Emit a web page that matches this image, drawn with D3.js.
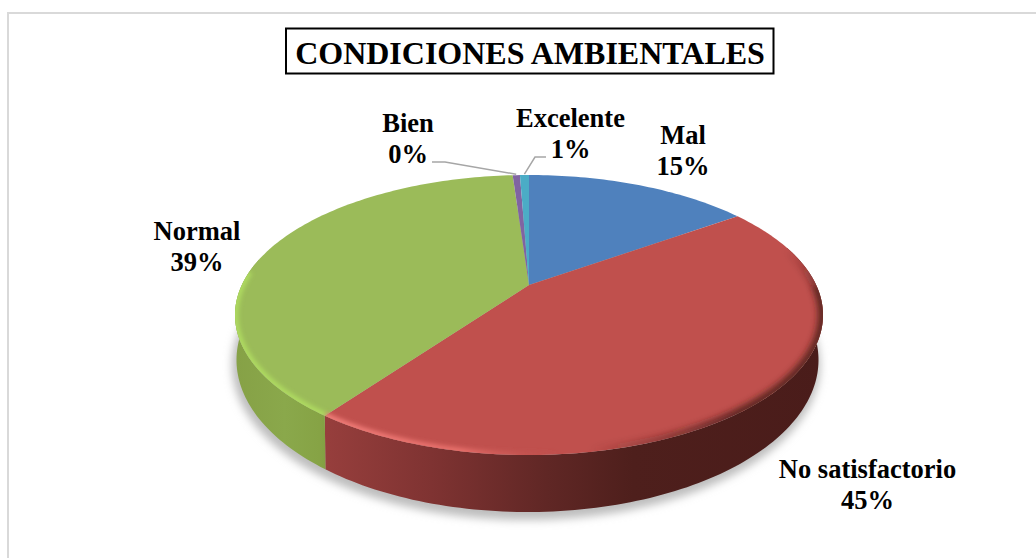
<!DOCTYPE html>
<html><head><meta charset="utf-8">
<script src="https://cdn.jsdelivr.net/npm/d3@7"></script>
<style>html,body{margin:0;padding:0;background:#fff}svg{display:block}text{font-family:"Liberation Serif",serif;font-weight:bold;fill:#000}</style>
</head><body><svg id="c" width="1036" height="558"></svg>
<script>
const categories = ["Mal","No satisfactorio","Normal","Bien","Excelente"];
const values = [15.2,44.8,38.9,0.49,0.61];
const percentLabels = ["15%","45%","39%","0%","1%"];
const colors = ["#4f81bd","#c0504d","#9bbb59","#8064a2","#4bacc6"];
const title = "CONDICIONES AMBIENTALES";

const svg=d3.select("#c");
const defs=svg.append("defs");
const blur=(id,s)=>defs.append("filter").attr("id",id).attr("x","-10%").attr("y","-10%").attr("width","120%").attr("height","120%")
  .append("feGaussianBlur").attr("stdDeviation",s);
blur("bl5",4); blur("bl2",2); blur("bl3",3);

function gradient(id,x1,y1,x2,y2,stops){
  const g=defs.append("linearGradient").attr("id",id).attr("gradientUnits","userSpaceOnUse")
    .attr("x1",x1).attr("x2",x2).attr("y1",y1).attr("y2",y2);
  stops.forEach(s=>g.append("stop").attr("offset",s[0]).attr("stop-color",s[1]).attr("stop-opacity",s[2]===undefined?1:s[2]));
}

// frame: top and left edges are visible, the rest falls outside the picture
svg.append("path").attr("d",d3.line()([[8,558],[8,13],[1036,13]])).attr("fill","none").attr("stroke","#d9d9d9").attr("stroke-width",2);

// a disc seen in perspective: its centre projects above the centre of the ellipse
const topDisc={cx:529,cy:315,rx:294,ry:140};
const botDisc={cx:527.5,cy:360,rx:291,ry:152};
const shadowDisc={cx:526,cy:365,rx:294,ry:155};
const kk=-30/140;
function project(theta,r,d){
  const u=r*Math.sin(theta), v=-r*Math.cos(theta), w=1+kk*v;
  return [d.cx+d.rx*Math.sqrt(1-kk*kk)*u/w, d.cy+d.ry*(v+kk)/w];
}
const pie=d3.pie().sort(null).value(d=>d)(values);
const line=d3.line();
const arcPts=(a0,a1,d)=>{
  const n=Math.max(2,Math.ceil((a1-a0)/0.02));
  return d3.range(n+1).map(i=>project(a0+(a1-a0)*i/n,1,d));
};
const apex=project(0,0,topDisc);

// shadow
svg.append("path").attr("d",line(arcPts(0,2*Math.PI,shadowDisc))+"Z").attr("fill","#bdbdbd").attr("filter","url(#bl5)");

// side walls
gradient("side1",320,0,825,0,[[0,"#983f3d"],[0.22,"#7f3332"],[0.45,"#602725"],[0.62,"#4e1f1c"],[1,"#4a1c1a"]]);
gradient("side2",235,0,335,0,[[0,"#86a146"],[0.5,"#8aa84b"],[0.85,"#86a345"],[1,"#7e9a3f"]]);
const sideFill={1:"url(#side1)",2:"url(#side2)"};
pie.forEach((p,i)=>{
  if(!sideFill[i]) return;
  const a0=Math.max(p.startAngle,Math.PI/2-0.3), a1=Math.min(p.endAngle,3*Math.PI/2+0.2);
  svg.append("path").attr("d",line(arcPts(a0,a1,topDisc).concat(arcPts(a0,a1,botDisc).reverse()))+"Z").attr("fill",sideFill[i]);
});

// top faces
pie.forEach((p,i)=>{
  svg.append("path").attr("d",line([apex].concat(arcPts(p.startAngle,p.endAngle,topDisc)))+"Z").attr("fill",colors[i]);
});

// bevel along the rim, clipped to the top face
defs.append("clipPath").attr("id","face").append("path").attr("d",line(arcPts(0,2*Math.PI,topDisc))+"Z");
const bevel=svg.append("g").attr("clip-path","url(#face)");
gradient("rimPink",325,0,600,0,[[0,"#f07c78"],[0.5,"#e66e6a"],[0.85,"#c0504d",0],[1,"#c0504d",0]]);
gradient("rimDarkFront",590,0,740,0,[[0,"#4c1d1b",0],[1,"#4c1d1b",0.85]]);
gradient("rimDarkBack",0,250,0,315,[[0,"#3c1614",0],[1,"#3c1614",0.85]]);
const rim=(a0,a1,stroke,w,f)=>bevel.append("path").attr("d",line(arcPts(a0,a1,topDisc))).attr("fill","none")
  .attr("stroke",stroke).attr("stroke-width",w).attr("filter",f);
const red=pie[1], green=pie[2], quarter=Math.PI/2;
rim(red.startAngle,quarter,"url(#rimDarkBack)",10,"url(#bl3)");
rim(quarter,red.endAngle,"url(#rimDarkFront)",10,"url(#bl3)");
rim(quarter+0.9,red.endAngle,"url(#rimPink)",7,"url(#bl2)");
rim(green.startAngle,3*quarter+0.1,"#aeda60",7,"url(#bl2)");

// title
svg.append("rect").attr("x",286).attr("y",28.5).attr("width",487.5).attr("height",45)
  .attr("fill","#fff").attr("stroke","#000").attr("stroke-width",2);
svg.append("text").attr("x",530).attr("y",64).attr("text-anchor","middle").attr("font-size",32).text(title);

// labels
const labelAnchor=[[683,144],[867.5,478],[197,240],[408,132],[570.5,127]];
categories.forEach((c,i)=>{
  const [x,y]=labelAnchor[i];
  const t=svg.append("text").attr("text-anchor","middle").attr("font-size",26.5);
  t.append("tspan").attr("x",x).attr("y",y).text(c);
  t.append("tspan").attr("x",x).attr("y",y+30.5).text(percentLabels[i]);
});

// leader lines
const wedgeTop=i=>project((pie[i].startAngle+pie[i].endAngle)/2,1.01,topDisc);
const leaders=[[3,[[432,162],[445,162]]],[4,[[546,157],[535,157]]]];
leaders.forEach(([i,pts])=>{
  svg.append("path").attr("d",line(pts.concat([wedgeTop(i)]))).attr("fill","none").attr("stroke","#a6a6a6").attr("stroke-width",1.5);
});
</script></body></html>
